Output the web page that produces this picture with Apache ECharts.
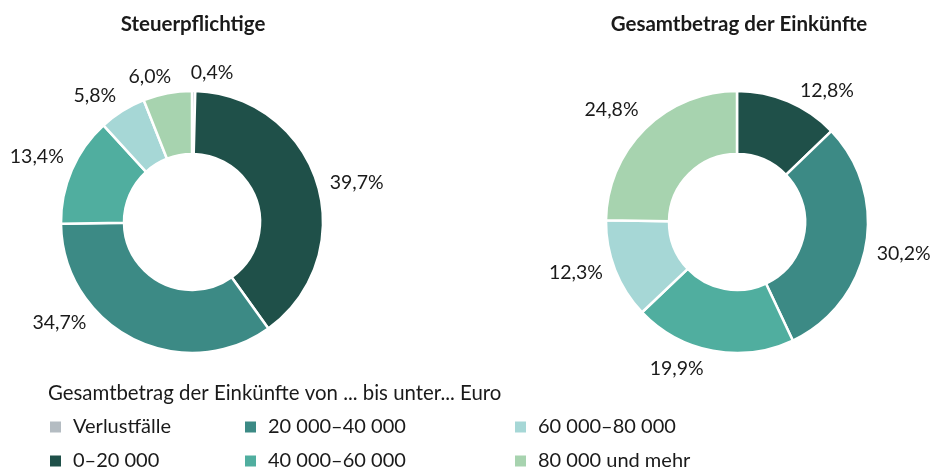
<!DOCTYPE html>
<html>
<head>
<meta charset="utf-8">
<script src="https://cdn.jsdelivr.net/npm/echarts@6/dist/echarts.min.js"></script>
<style>
html,body{margin:0;padding:0;background:#fff;}
#c{width:931px;height:470px;}
</style>
</head>
<body>
<div id="c"></div>
<script>
const categories = ['Verlustfälle', '0–20 000', '20 000–40 000', '40 000–60 000', '60 000–80 000', '80 000 und mehr'];
const steuerpflichtige = [0.4, 39.7, 34.7, 13.4, 5.8, 6.0];
const gesamtbetrag = [null, 12.8, 30.2, 19.9, 12.3, 24.8];
const chartTitles = ['Steuerpflichtige', 'Gesamtbetrag der Einkünfte'];
const legendTitle = 'Gesamtbetrag der Einkünfte von ... bis unter... Euro';

// small label nudges (label placement only)
const leftLabelNudge = [[-7, -6], [-3, 3], [-37, -27], [7, -8], [4, -5], [10, -5]];
const rightLabelNudge = [[0, 0], [3, 0], [-5, 6], [-3, 6], [3, -2], [6, -11]];

const colors = ['#b4bcc2', '#1f5049', '#3c8a85', '#50ae9f', '#a6d7d6', '#a7d3af'];
const FONT = 'Lato';
const TXT = '#1a1a1a';

function fmt(v) { return v.toFixed(1).replace('.', ',') + '%'; }

function buildData(values, nudges) {
  const out = [];
  values.forEach((v, i) => {
    if (v === null) return;
    out.push({ name: categories[i], value: v, itemStyle: { color: colors[i] },
      label: { offset: nudges[i] } });
  });
  return out;
}

function pieSeries(values, cx, nudges) {
  return {
    type: 'pie',
    center: [cx, 222],
    radius: [68, 131],
    startAngle: 90,
    clockwise: true,
    avoidLabelOverlap: false,
    itemStyle: { borderColor: '#fff', borderWidth: 2.5 },
    label: {
      show: true,
      position: 'outside',
      formatter: p => fmt(p.value),
      fontFamily: FONT, fontSize: 19.5, color: TXT,
      distanceToLabelLine: 4
    },
    labelLine: { show: false, length: 12, length2: 0 },
    emphasis: { disabled: true },
    data: buildData(values, nudges)
  };
}

const chart = echarts.init(document.getElementById('c'), null, { renderer: 'canvas' });
const legendBase = {
  orient: 'vertical', top: 417, height: 60, padding: 0,
  itemWidth: 13, itemHeight: 13, itemGap: 14,
  icon: 'rect', selectedMode: false,
  textStyle: { fontFamily: FONT, fontSize: 20, color: TXT, lineHeight: 20, padding: [0, 0, 0, 6] }
};
chart.setOption({
  animation: false,
  title: [
    { text: chartTitles[0], left: 188, top: 9, textAlign: 'center',
      textStyle: { fontFamily: FONT, fontSize: 20.5, fontWeight: 'bold', color: TXT } },
    { text: chartTitles[1], left: 734, top: 9, textAlign: 'center',
      textStyle: { fontFamily: FONT, fontSize: 20.5, fontWeight: 'bold', color: TXT } },
    { text: legendTitle, left: 43, top: 378,
      textStyle: { fontFamily: FONT, fontSize: 20.4, fontWeight: 'normal', color: TXT } }
  ],
  legend: [
    Object.assign({}, legendBase, { left: 48, data: [categories[0], categories[1]] }),
    Object.assign({}, legendBase, { left: 243, data: [categories[2], categories[3]] }),
    Object.assign({}, legendBase, { left: 513, data: [categories[4], categories[5]] })
  ],
  series: [pieSeries(steuerpflichtige, 192, leftLabelNudge), pieSeries(gesamtbetrag, 737, rightLabelNudge)]
});
</script>
</body>
</html>
